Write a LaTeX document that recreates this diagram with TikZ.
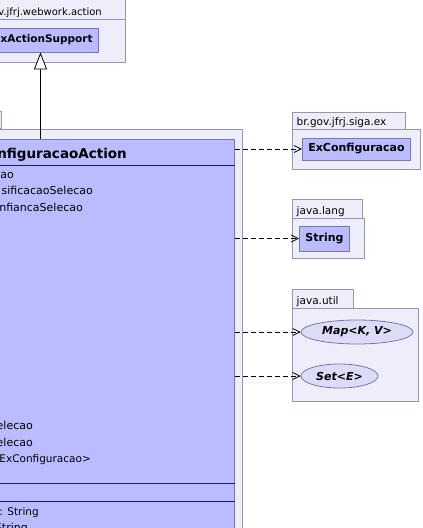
\documentclass[tikz,border=0pt]{standalone}
\usepackage{fontspec}
\setmainfont{DejaVu Sans}
\usetikzlibrary{arrows.meta,shapes.geometric}
\definecolor{pkgfill}{RGB}{238,238,250}
\definecolor{pkgline}{RGB}{150,150,172}
\definecolor{clsfill}{RGB}{187,187,255}
\definecolor{clsline}{RGB}{120,120,172}
\definecolor{ifcfill}{RGB}{220,220,246}
\begin{document}
\begin{tikzpicture}[x=1pt, y=-1pt, line join=miter,
  pkg/.style={draw=pkgline, fill=pkgfill, line width=0.8pt, inner sep=0, anchor=north west},
  cls/.style={draw=clsline, fill=clsfill, line width=0.8pt, inner xsep=6pt, inner ysep=0, minimum height=22pt, font=\fontsize{11}{13}\selectfont\bfseries},
  ifc/.style={ellipse, draw=clsline, fill=ifcfill, line width=0.8pt, minimum height=24pt, inner sep=0, font=\fontsize{11}{13}\selectfont\bfseries\itshape},
  pname/.style={anchor=base west, inner sep=0, font=\fontsize{10.5}{12}\selectfont},
  attr/.style={anchor=base east, inner sep=0, font=\fontsize{11}{13}\selectfont},
  sep/.style={line width=0.8pt, black!85},
  dep/.style={dash pattern=on 5pt off 3pt, line width=0.8pt, -{Straight Barb[length=7pt,width=7pt]}},
  gen/.style={line width=0.8pt, -{Triangle[open, fill=white, length=17pt, width=13pt]}}]
	\useasboundingbox (0,0) rectangle (423,528);
	% webwork.action
	\node[pkg, minimum width=150pt, minimum height=21pt] (wwtab) at (-25,-2) {};
	\node[pkg, minimum width=150pt, minimum height=43pt] (wwpkg) at (-25,19) {};
	\node[pname, anchor=base east, font=\fontsize{10}{12}\selectfont] at (102,15.5) {v.jfrj.webwork.action};
	\node[cls, minimum height=24pt, anchor=east, font=\fontsize{10.5}{12}\selectfont\bfseries] (sup) at (99,40) {xActionSupport};
	% package and class of the action
	\node[pkg, minimum width=70pt, minimum height=17pt, anchor=south east] (mtab) at (2,129) {};
	\node[pkg, minimum width=320pt, minimum height=420pt, anchor=north east] (mpkg) at (242.5,129) {};
	\node[cls, minimum width=310pt, minimum height=410pt, anchor=north east] (main) at (234.5,138.5) {};
	\draw[sep] ([yshift=-26.5pt]main.north west) -- ([yshift=-26.5pt]main.north east);
	\draw[sep] ([yshift=-344.8pt]main.north west) -- ([yshift=-344.8pt]main.north east);
	\draw[sep] ([yshift=-363.2pt]main.north west) -- ([yshift=-363.2pt]main.north east);
	\node[attr, font=\fontsize{13.5}{16}\selectfont\bfseries] (title) at (127,158.5) {nfiguracaoAction};
	\node[attr] (a1) at (14,178) {ao};
	\node[attr] (a2) at (93,194.5) {sificacaoSelecao};
	\node[attr] (a3) at (83,211) {nfiancaSelecao};
	\node[attr] (a4) at (33,429.5) {elecao};
	\node[attr] (a5) at (33,446) {elecao};
	\node[attr, font=\fontsize{10.5}{12}\selectfont] (a6) at (91,462.7) {ExConfiguracao>};
	\node[attr, font=\fontsize{10.5}{12}\selectfont] (m1) at (39,515) {: String};
	\node[attr] (m2) at (28,531.5) {String};
	% br.gov.jfrj.siga.ex
	\node[pkg, minimum width=113pt, minimum height=17pt] (extab) at (292,112) {};
	\node[pkg, minimum width=128pt, minimum height=40pt] (expkg) at (292,129) {};
	\node[pname] at (296.5,125.5) {br.gov.jfrj.siga.ex};
	\node[cls] (excfg) at (356.5,149) {ExConfiguracao};
	% java.lang
	\node[pkg, minimum width=69.5pt, minimum height=19pt] (langtab) at (292,199) {};
	\node[pkg, minimum width=72pt, minimum height=40pt] (langpkg) at (292,218) {};
	\node[pname] at (296.5,214) {java.lang};
	\node[cls, minimum height=25pt] (str) at (324.5,238.5) {String};
	% java.util
	\node[pkg, minimum width=61pt, minimum height=19pt] (utiltab) at (292,289) {};
	\node[pkg, minimum width=126pt, minimum height=93pt] (utilpkg) at (292,308) {};
	\node[pname] at (296.5,304) {java.util};
	\node[ifc, minimum width=112pt] (map) at (357,332) {Map<K, V>};
	\node[ifc, minimum width=77pt] (set) at (339.5,376) {Set<E>};
	% connectors
	\coordinate (g) at (40.5,138.5);
	\draw[gen] (g) -- (g |- sup.south);
	\draw[dep] (main.east |- excfg) -- (excfg);
	\draw[dep] (main.east |- str) -- (str);
	\draw[dep] (main.east |- map) -- (map);
	\draw[dep] (main.east |- set) -- (set);
\end{tikzpicture}
\end{document}
